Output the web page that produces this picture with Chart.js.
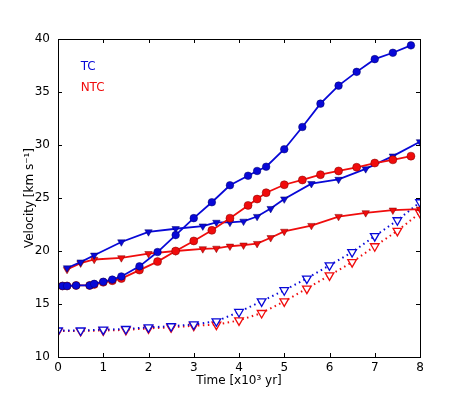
<!DOCTYPE html>
<html>
<head>
<meta charset="utf-8">
<script src="https://cdn.jsdelivr.net/npm/chart.js@4.4.1/dist/chart.umd.min.js"></script>
<style>
  html, body { margin: 0; padding: 0; background: #fff; }
  canvas { display: block; }
</style>
</head>
<body>
<canvas id="velocityChart" width="468" height="396"></canvas>
<script>
// Data (time in 10^3 yr, velocity in km/s)
const tcCircleTime = [0.1, 0.2, 0.4, 0.7, 0.8, 1.0, 1.2, 1.4, 1.8, 2.2, 2.6, 3.0, 3.4, 3.8, 4.2, 4.4, 4.6, 5.0, 5.4, 5.8, 6.2, 6.6, 7.0, 7.4, 7.8];
const tcCircleVel = [16.7, 16.7, 16.75, 16.75, 16.9, 17.1, 17.3, 17.6, 18.55, 19.9, 21.5, 23.1, 24.6, 26.2, 27.1, 27.55, 27.95, 29.6, 31.7, 33.9, 35.6, 36.9, 38.1, 38.7, 39.4];

const ntcCircleTime = [0.1, 0.2, 0.4, 0.7, 0.8, 1.0, 1.2, 1.4, 1.8, 2.2, 2.6, 3.0, 3.4, 3.8, 4.2, 4.4, 4.6, 5.0, 5.4, 5.8, 6.2, 6.6, 7.0, 7.4, 7.8];
const ntcCircleVel = [16.7, 16.7, 16.75, 16.75, 16.85, 17.05, 17.2, 17.4, 18.2, 19.0, 20.0, 20.95, 21.95, 23.1, 24.3, 24.9, 25.5, 26.25, 26.7, 27.2, 27.55, 27.9, 28.3, 28.6, 28.95];

const tcTriTime = [0.2, 0.5, 0.8, 1.4, 2.0, 2.6, 3.2, 3.5, 3.8, 4.1, 4.4, 4.7, 5.0, 5.6, 6.2, 6.8, 7.4, 8.0];
const tcTriVel = [18.4, 18.95, 19.6, 20.85, 21.8, 22.1, 22.35, 22.7, 22.7, 22.8, 23.25, 24.0, 24.9, 26.35, 26.75, 27.75, 28.95, 30.3];

const ntcTriTime = [0.2, 0.5, 0.8, 1.4, 2.0, 2.6, 3.2, 3.5, 3.8, 4.1, 4.4, 4.7, 5.0, 5.6, 6.2, 6.8, 7.4, 8.0];
const ntcTriVel = [18.25, 18.85, 19.2, 19.35, 19.75, 20.0, 20.2, 20.25, 20.45, 20.55, 20.7, 21.25, 21.85, 22.4, 23.25, 23.6, 23.85, 23.95];

const openTime = [0, 0.5, 1.0, 1.5, 2.0, 2.5, 3.0, 3.5, 4.0, 4.5, 5.0, 5.5, 6.0, 6.5, 7.0, 7.5, 8.0];
const tcOpenVel = [12.5, 12.5, 12.58, 12.64, 12.8, 12.9, 13.07, 13.37, 14.25, 15.25, 16.3, 17.4, 18.65, 19.9, 21.4, 22.9, 24.6];
const ntcOpenVel = [12.45, 12.45, 12.5, 12.55, 12.7, 12.8, 12.95, 13.05, 13.45, 14.15, 15.25, 16.45, 17.7, 18.95, 20.45, 21.9, 23.6];

const xTicks = [0, 1, 2, 3, 4, 5, 6, 7, 8];
const yTicks = [10, 15, 20, 25, 30, 35, 40];

const BLUE = 'rgb(8,8,215)';
const RED = 'rgb(240,12,12)';
const FONT = 'DejaVu Sans';

const toPoints = (xs, ys) => xs.map((x, i) => ({ x: x, y: ys[i] }));

// Frame, inward ticks on all four sides and the TC / NTC labels
const framePlugin = {
  id: 'frame',
  afterDraw(chart) {
    const { ctx, chartArea: a, scales } = chart;
    const len = 4;
    ctx.save();
    ctx.strokeStyle = '#000';
    ctx.lineWidth = 1;
    ctx.beginPath();
    xTicks.forEach(v => {
      const px = Math.round(scales.x.getPixelForValue(v)) + 0.5;
      ctx.moveTo(px, a.bottom); ctx.lineTo(px, a.bottom - len);
      ctx.moveTo(px, a.top); ctx.lineTo(px, a.top + len);
    });
    yTicks.forEach(v => {
      const py = Math.round(scales.y.getPixelForValue(v)) + 0.5;
      ctx.moveTo(a.left, py); ctx.lineTo(a.left + len, py);
      ctx.moveTo(a.right, py); ctx.lineTo(a.right - len, py);
    });
    ctx.stroke();
    ctx.strokeRect(Math.round(a.left) + 0.5, Math.round(a.top) + 0.5,
      Math.round(a.right - a.left), Math.round(a.bottom - a.top));

    ctx.font = '12px "' + FONT + '"';
    ctx.textAlign = 'left';
    ctx.textBaseline = 'middle';
    ctx.fillStyle = BLUE;
    ctx.fillText('TC', scales.x.getPixelForValue(0.5), scales.y.getPixelForValue(37.4));
    ctx.fillStyle = RED;
    ctx.fillText('NTC', scales.x.getPixelForValue(0.5), scales.y.getPixelForValue(35.35));
    ctx.restore();
  }
};

const solidSet = (data, color, style, radius) => ({
  data: data,
  borderColor: color,
  borderWidth: 1.8,
  pointStyle: style,
  pointRotation: style === 'triangle' ? 180 : 0,
  pointRadius: radius,
  pointHoverRadius: radius,
  pointBackgroundColor: color,
  pointBorderColor: color === BLUE ? '#000066' : '#800000',
  pointBorderWidth: 0.5,
  tension: 0
});

const dottedSet = (data, color) => ({
  data: data,
  borderColor: color,
  borderWidth: 2,
  borderDash: [1.5, 3.5],
  pointStyle: 'triangle',
  pointRotation: 180,
  pointRadius: 5,
  pointHoverRadius: 5,
  pointBackgroundColor: '#fff',
  pointBorderColor: color,
  pointBorderWidth: 1.3,
  tension: 0
});

new Chart(document.getElementById('velocityChart'), {
  type: 'line',
  data: {
    datasets: [
      solidSet(toPoints(tcCircleTime, tcCircleVel), BLUE, 'circle', 3.8),
      solidSet(toPoints(ntcCircleTime, ntcCircleVel), RED, 'circle', 4),
      solidSet(toPoints(tcTriTime, tcTriVel), BLUE, 'triangle', 4.3),
      solidSet(toPoints(ntcTriTime, ntcTriVel), RED, 'triangle', 4.3),
      dottedSet(toPoints(openTime, tcOpenVel), BLUE),
      dottedSet(toPoints(openTime, ntcOpenVel), RED)
    ]
  },
  options: {
    responsive: false,
    animation: false,
    layout: { padding: { top: 39, right: 48, left: 0, bottom: 0 } },
    plugins: { legend: { display: false }, tooltip: { enabled: false } },
    scales: {
      x: {
        type: 'linear',
        min: 0,
        max: 8,
        afterFit: s => { s.height = 39; },
        afterBuildTicks: s => { s.ticks = xTicks.map(v => ({ value: v })); },
        grid: { display: false, drawTicks: false },
        border: { display: false },
        ticks: { color: '#000', padding: 4, font: { family: FONT, size: 12 }, maxRotation: 0 },
        title: {
          display: true,
          text: 'Time [x10³ yr]',
          color: '#000',
          font: { family: FONT, size: 12 },
          padding: { bottom: 8, top: 0 }
        }
      },
      y: {
        type: 'linear',
        min: 10,
        max: 40,
        afterFit: s => { s.width = 58; },
        afterBuildTicks: s => { s.ticks = yTicks.map(v => ({ value: v })); },
        grid: { display: false, drawTicks: false },
        border: { display: false },
        ticks: { color: '#000', padding: 8, font: { family: FONT, size: 12 } },
        title: {
          display: true,
          text: 'Velocity [km s⁻¹]',
          color: '#000',
          font: { family: FONT, size: 12 },
          padding: { top: 23, bottom: 0 }
        }
      }
    }
  },
  plugins: [framePlugin]
});
</script>
</body>
</html>
